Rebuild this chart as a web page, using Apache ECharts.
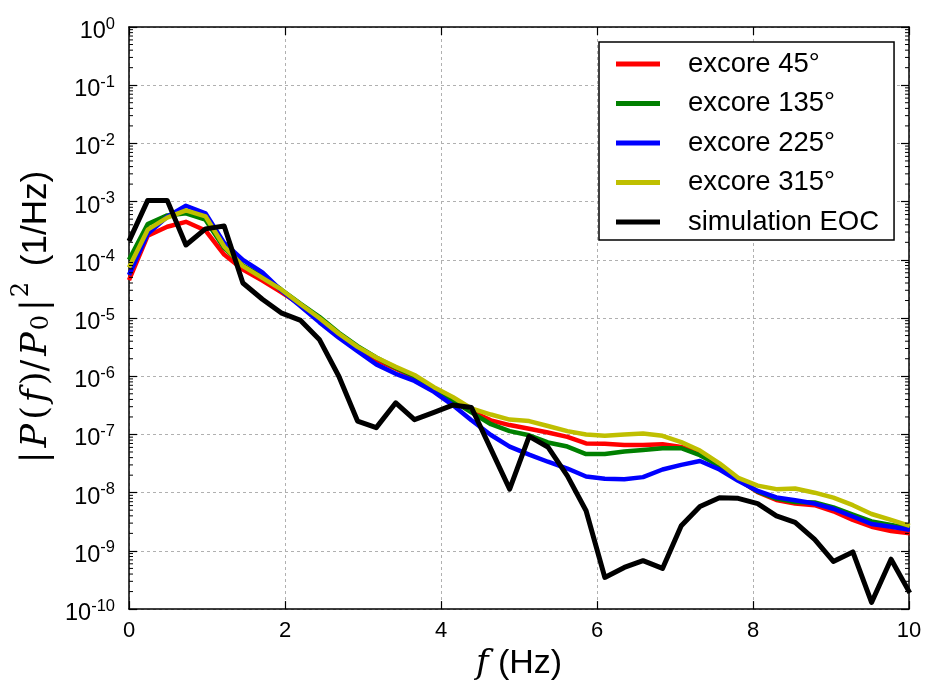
<!DOCTYPE html>
<html>
<head>
<meta charset="utf-8">
<script src="https://cdn.jsdelivr.net/npm/echarts@6/dist/echarts.min.js"></script>
<style>
  html, body { margin: 0; padding: 0; background: #fff; }
  #chart { width: 925px; height: 686px; }
</style>
</head>
<body>
<div id="chart"></div>
<script>
// Frequency grid of the spectra (Hz)
const freqHz = [0, 0.24, 0.49, 0.73, 0.98, 1.22, 1.46, 1.71, 1.95, 2.20, 2.44, 2.69, 2.93, 3.17,
  3.42, 3.66, 3.91, 4.15, 4.39, 4.64, 4.88, 5.13, 5.37, 5.62, 5.86, 6.10, 6.35, 6.59, 6.84,
  7.08, 7.32, 7.57, 7.81, 8.06, 8.30, 8.54, 8.79, 9.03, 9.28, 9.52, 9.77, 10.01];

// Normalised power spectral densities |P(f)/P0|^2 (1/Hz)
const excore45 = [4.5e-5, 2.6e-4, 3.7e-4, 4.5e-4, 3.2e-4, 1.23e-4, 6.8e-5, 4.4e-5, 2.8e-5, 1.7e-5,
  1.0e-5, 5.3e-6, 3.0e-6, 1.9e-6, 1.35e-6, 9.5e-7, 6.0e-7, 3.9e-7, 2.5e-7, 1.75e-7, 1.45e-7,
  1.25e-7, 1.08e-7, 9.1e-8, 7.0e-8, 6.9e-8, 6.6e-8, 6.6e-8, 6.8e-8, 6.1e-8, 4.7e-8, 2.9e-8,
  1.7e-8, 1.02e-8, 7.5e-9, 6.5e-9, 6.1e-9, 4.8e-9, 3.4e-9, 2.6e-9, 2.2e-9, 2.0e-9];
const excore135 = [1.0e-4, 4.1e-4, 5.8e-4, 6.3e-4, 4.9e-4, 1.6e-4, 8.0e-5, 5.2e-5, 3.1e-5, 1.75e-5,
  1.05e-5, 5.6e-6, 3.3e-6, 2.1e-6, 1.4e-6, 1.0e-6, 6.0e-7, 3.8e-7, 2.4e-7, 1.5e-7, 1.14e-7,
  9.7e-8, 7.3e-8, 6.2e-8, 4.6e-8, 4.6e-8, 5.1e-8, 5.4e-8, 5.8e-8, 5.8e-8, 4.4e-8, 2.9e-8,
  1.7e-8, 1.04e-8, 7.9e-9, 6.9e-9, 6.8e-9, 5.6e-9, 4.2e-9, 3.2e-9, 2.8e-9, 2.45e-9];
const excore225 = [5.5e-5, 2.8e-4, 5.5e-4, 8.5e-4, 6.3e-4, 1.95e-4, 1.0e-4, 6.1e-5, 3.0e-5, 1.6e-5,
  8.5e-6, 4.6e-6, 2.7e-6, 1.6e-6, 1.1e-6, 8.3e-7, 5.4e-7, 3.2e-7, 1.75e-7, 9.8e-8, 6.2e-8,
  4.5e-8, 3.4e-8, 2.6e-8, 1.9e-8, 1.74e-8, 1.7e-8, 1.85e-8, 2.5e-8, 3.0e-8, 3.5e-8, 2.5e-8,
  1.6e-8, 1.07e-8, 8.3e-9, 7.4e-9, 6.5e-9, 5.3e-9, 3.9e-9, 2.9e-9, 2.6e-9, 2.3e-9];
const excore315 = [7.4e-5, 3.3e-4, 5.3e-4, 7.1e-4, 5.6e-4, 1.7e-4, 7.8e-5, 4.9e-5, 3.1e-5, 1.73e-5,
  1.0e-5, 5.4e-6, 3.2e-6, 2.1e-6, 1.45e-6, 1.05e-6, 6.5e-7, 4.4e-7, 2.8e-7, 2.2e-7, 1.8e-7,
  1.7e-7, 1.4e-7, 1.14e-7, 1.0e-7, 9.5e-8, 1.0e-7, 1.04e-7, 9.5e-8, 7.4e-8, 5.3e-8, 3.2e-8,
  1.8e-8, 1.32e-8, 1.15e-8, 1.18e-8, 1.0e-8, 8.2e-9, 6.1e-9, 4.3e-9, 3.4e-9, 2.7e-9];
const simulationEOC = [2.1e-4, 1.05e-3, 1.05e-3, 1.8e-4, 3.4e-4, 3.8e-4, 4.0e-5, 2.1e-5, 1.23e-5,
  9.1e-6, 4.3e-6, 1.0e-6, 1.7e-7, 1.31e-7, 3.5e-7, 1.8e-7, 2.4e-7, 3.2e-7, 2.9e-7, 5.6e-8,
  1.15e-8, 9.3e-8, 6.1e-8, 1.94e-8, 4.9e-9, 3.5e-10, 5.2e-10, 6.8e-10, 5.0e-10, 2.7e-9, 5.8e-9,
  8.2e-9, 8.0e-9, 6.5e-9, 4.0e-9, 3.1e-9, 1.58e-9, 6.6e-10, 9.6e-10, 1.3e-10, 7.2e-10, 1.9e-10];

const seriesNames = ['excore 45°', 'excore 135°', 'excore 225°', 'excore 315°', 'simulation EOC'];
const seriesValues = [excore45, excore135, excore225, excore315, simulationEOC];
const seriesColors = ['#ff0000', '#008000', '#0000ff', '#bfbf00', '#000000'];
const seriesWidths = [4.5, 4.5, 4.5, 4.5, 5];

// Axis ranges and ticks
const xTicks = [0, 2, 4, 6, 8, 10];
const yDecadeExponents = [-10, -9, -8, -7, -6, -5, -4, -3, -2, -1, 0];

const SANS = "'Liberation Sans', Arial, Helvetica, sans-serif";
const SERIF = "'DejaVu Serif', 'Liberation Serif', serif";

const chart = echarts.init(document.getElementById('chart'), null, { renderer: 'canvas' });

const gridLine = { show: true, lineStyle: { color: '#b0b0b0', width: 1, type: [3, 3] } };
const axisLineStyle = { show: true, onZero: false, lineStyle: { color: '#000', width: 1.5 } };
const majorTick = { show: true, inside: true, length: 8, lineStyle: { color: '#000', width: 1.2 } };

const series = seriesNames.map((name, i) => ({
  name: name,
  type: 'line',
  xAxisIndex: 0,
  yAxisIndex: 0,
  data: freqHz.map((f, k) => [f, seriesValues[i][k]]),
  showSymbol: false,
  symbol: 'none',
  clip: true,
  lineStyle: { color: seriesColors[i], width: seriesWidths[i], join: 'round', cap: 'butt' },
  itemStyle: { color: seriesColors[i] },
  z: 2 + i
}));

const yMin = Math.pow(10, yDecadeExponents[0]);
const yMax = Math.pow(10, yDecadeExponents[yDecadeExponents.length - 1]);

// Rich-text pieces of the y-axis title
const mathBase = { fontFamily: SERIF, fontSize: 35, lineHeight: 44, padding: [9, 2, 0, 2], color: '#000' };

chart.setOption({
  animation: false,
  backgroundColor: '#fff',
  grid: { left: 129, right: 16, top: 27, bottom: 76, containLabel: false },
  xAxis: [
    {
      type: 'value', min: xTicks[0], max: xTicks[xTicks.length - 1], interval: 2,
      position: 'bottom',
      axisLine: axisLineStyle,
      axisTick: majorTick,
      axisLabel: { show: true, margin: 11, color: '#000', fontFamily: SANS, fontSize: 22 },
      splitLine: gridLine,
      name: '{i|f}{t| (Hz)}',
      nameLocation: 'middle',
      nameGap: 36,
      nameTextStyle: {
        rich: {
          i: { fontFamily: SERIF, fontStyle: 'italic', fontSize: 34, color: '#000' },
          t: { fontFamily: SANS, fontSize: 34, color: '#000' }
        }
      }
    },
    {
      type: 'value', min: xTicks[0], max: xTicks[xTicks.length - 1], interval: 2,
      position: 'top',
      axisLine: axisLineStyle,
      axisTick: majorTick,
      axisLabel: { show: false },
      splitLine: { show: false }
    }
  ],
  yAxis: [
    {
      type: 'log', logBase: 10, min: yMin, max: yMax, interval: 1, splitNumber: 10,
      position: 'left',
      axisLine: axisLineStyle,
      axisTick: majorTick,
      axisLabel: {
        show: true, margin: 14, color: '#000',
        formatter: v => '{b|10}{s|' + Math.round(Math.log10(v)) + '}',
        rich: {
          b: { fontFamily: SANS, fontSize: 23.5, lineHeight: 23, padding: [9, 0, 0, 0], color: '#000' },
          s: { fontFamily: SANS, fontSize: 16.5, lineHeight: 16, verticalAlign: 'top', color: '#000' }
        }
      },
      splitLine: gridLine,
      name: '{m||}{i|P}{m|(}{i|f}{m|)/}{i|P}{sub|0}{m||}{sup|2}{t| (1/Hz)}',
      nameLocation: 'middle',
      nameRotate: 90,
      nameGap: 64,
      nameTextStyle: {
        rich: {
          m: mathBase,
          i: Object.assign({}, mathBase, { fontStyle: 'italic' }),
          sub: { fontFamily: SERIF, fontSize: 24, lineHeight: 24, verticalAlign: 'bottom', padding: [0, 2, 0, 0], color: '#000' },
          sup: { fontFamily: SERIF, fontSize: 24, lineHeight: 24, verticalAlign: 'top', padding: [0, 6, 0, 0], color: '#000' },
          t: { fontFamily: SANS, fontSize: 35, lineHeight: 44, padding: [9, 0, 0, 0], color: '#000' }
        }
      }
    },
    {
      type: 'log', logBase: 10, min: yMin, max: yMax, interval: 1, splitNumber: 10,
      position: 'right',
      axisLine: axisLineStyle,
      axisTick: majorTick,
      axisLabel: { show: false },
      splitLine: { show: false }
    }
  ],
  legend: {
    data: seriesNames,
    orient: 'vertical',
    left: 599,
    top: 42,
    padding: [7, 15, 3, 17],
    itemGap: 9.5,
    itemWidth: 44,
    itemHeight: 5,
    icon: 'rect',
    backgroundColor: '#fff',
    borderColor: '#000',
    borderWidth: 1.5,
    borderRadius: 0,
    textStyle: {
      fontFamily: SANS, fontSize: 27.5, lineHeight: 30, color: '#000',
      padding: [0, 0, 0, 23]
    }
  },
  series: series
});

// Logarithmic minor ticks (2..9 within each decade) on the left and right axes
function drawMinorTicks() {
  const elements = [];
  const xLeft = chart.convertToPixel({ xAxisIndex: 0 }, xTicks[0]);
  const xRight = chart.convertToPixel({ xAxisIndex: 0 }, xTicks[xTicks.length - 1]);
  yDecadeExponents.slice(0, -1).forEach(e => {
    for (let m = 2; m <= 9; m++) {
      const y = chart.convertToPixel({ yAxisIndex: 0 }, m * Math.pow(10, e));
      elements.push({ type: 'line', shape: { x1: xLeft, y1: y, x2: xLeft + 4, y2: y },
        style: { stroke: '#000', lineWidth: 1 }, z: 10, silent: true });
      elements.push({ type: 'line', shape: { x1: xRight - 4, y1: y, x2: xRight, y2: y },
        style: { stroke: '#000', lineWidth: 1 }, z: 10, silent: true });
    }
  });
  chart.setOption({ graphic: elements });
}
drawMinorTicks();
</script>
</body>
</html>
